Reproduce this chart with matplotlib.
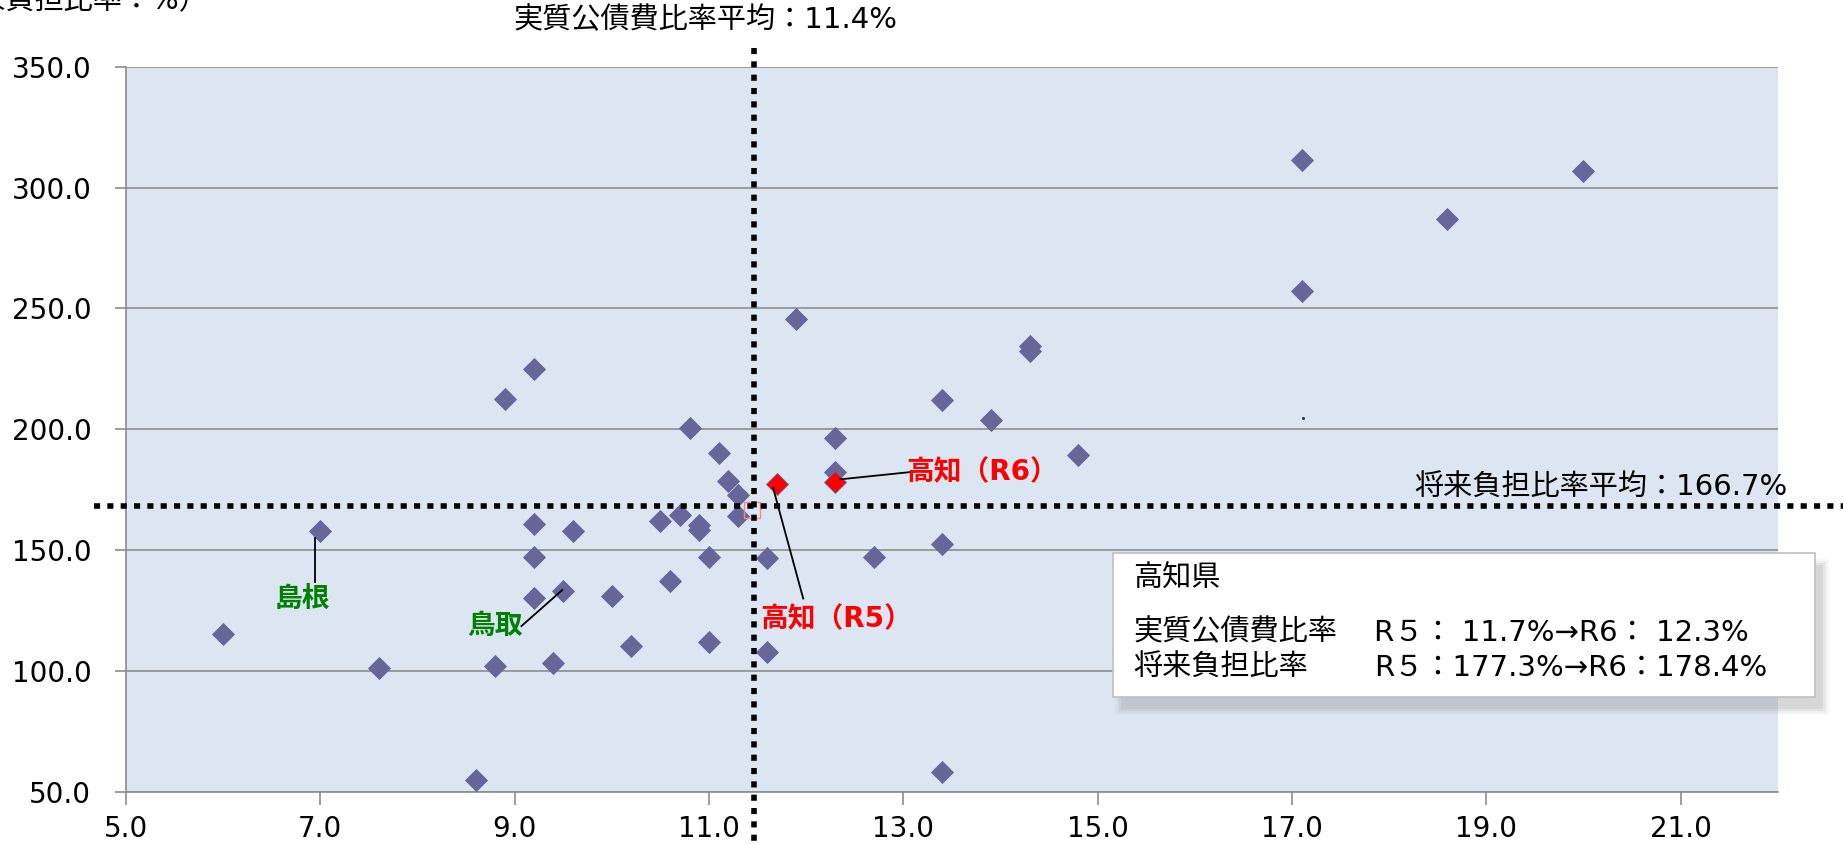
import matplotlib
matplotlib.use("Agg")
import matplotlib.pyplot as plt
from matplotlib.patches import Rectangle

plt.rcParams['font.family'] = ['DejaVu Sans', 'Noto Sans CJK JP']

# ---- data ----
# 実質公債費比率 (x) / 将来負担比率 (y), all prefectures
x_vals = [6.0, 7.0, 7.6, 8.6, 8.8, 8.9, 9.2, 9.2, 9.2, 9.2, 9.4, 9.5, 9.6,
          10.0, 10.2, 10.5, 10.6, 10.7, 10.8, 10.9, 10.9, 11.0, 11.0, 11.1,
          11.2, 11.3, 11.3, 11.6, 11.6, 11.9, 12.3, 12.3, 12.7, 13.4, 13.4,
          13.4, 13.9, 14.3, 14.3, 14.8, 17.1, 17.1, 18.6, 20.0]
y_vals = [115.2, 158.0, 101.2, 55.0, 102.2, 212.5, 225.0, 160.7, 147.0, 130.1,
          103.2, 133.3, 157.9, 131.0, 110.2, 162.1, 137.4, 164.7, 200.5, 160.6,
          158.2, 147.2, 111.9, 190.4, 178.5, 172.9, 164.3, 146.7, 107.7, 245.8,
          196.5, 182.3, 147.0, 212.3, 152.5, 58.2, 203.7, 234.3, 232.5, 189.2,
          311.3, 257.4, 287.0, 307.0]

# 高知 R5 / R6
kochi_x = [11.7, 12.3]
kochi_y = [177.3, 178.4]

# averages (where the dotted lines sit in the picture)
avg_x = 11.46
avg_y = 168.4
avg_point = (11.44, 166.7)

x_ticks = [5.0, 7.0, 9.0, 11.0, 13.0, 15.0, 17.0, 19.0, 21.0]
y_ticks = [50.0, 100.0, 150.0, 200.0, 250.0, 300.0, 350.0]

W, H = 1843, 844


def px(x, y):
    # pixel (from top-left) -> figure fraction
    return x / W, 1 - y / H


fig = plt.figure(figsize=(W / 100, H / 100), dpi=100)
ax = fig.add_axes([126 / W, 1 - 791.9 / H, (1777.7 - 126) / W, (791.9 - 66.7) / H])
ax.set_facecolor('#DCE6F2')
ax.set_xlim(5, 22)
ax.set_ylim(50, 350)
ax.set_xticks(x_ticks)
ax.set_yticks(y_ticks)
ax.set_xticklabels(['%.1f' % v for v in x_ticks])
ax.set_yticklabels(['%.1f' % v for v in y_ticks])
ax.tick_params(axis='y', length=8, width=1.2, color='#8c8c8c', pad=17, labelsize=20)
ax.tick_params(axis='x', length=9.5, width=1.2, color='#8c8c8c', pad=7, labelsize=20)
ax.grid(axis='y', color='#8c8c8c', linewidth=1.2, zorder=1)
ax.set_axisbelow(True)
for s in ['top', 'right']:
    ax.spines[s].set_visible(False)
for s in ['left', 'bottom']:
    ax.spines[s].set_color('#8c8c8c')
    ax.spines[s].set_linewidth(1.2)

ax.plot(x_vals, y_vals, linestyle='none', marker='D', ms=11.5,
        mfc='#666699', mec='#666699', mew=0.6, zorder=3)
ax.plot(kochi_x, kochi_y, linestyle='none', marker='D', ms=11.5,
        mfc='#FF0000', mec='#666699', mew=0.6, zorder=4)
ax.plot([17.11], [204.5], linestyle='none', marker='o', ms=1.2,
        color='#333333', zorder=3)
ax.plot([avg_point[0]], [avg_point[1]], linestyle='none', marker='s', ms=11,
        mfc='none', mec='#f08c8c', mew=1.0, zorder=4)

# dotted average lines (they run outside the plot area)
dot = dict(color='black', linewidth=4, dashes=(1.1, 1.3),
           dash_capstyle='butt', clip_on=False, zorder=5)
ax.plot([avg_x, avg_x], [357.7, 28.4], **dot)
ax.plot([4.67, 22.67], [avg_y, avg_y], **dot)

ax.text(22.1, 175.7, '将来負担比率平均：166.7%', fontsize=21,
        ha='right', va='center', clip_on=False, zorder=6)
fig.text(*px(705, 20), '実質公債費比率平均：11.4%', fontsize=21,
         ha='center', va='center')
fig.text(*px(209, 1), '（将来負担比率：%）', fontsize=21,
         ha='right', va='center')

# labels with leader lines
green = '#008000'
ax.plot([6.95, 6.95], [137.0, 155.1], color='black', lw=1.3, zorder=4)
ax.text(6.82, 130.0, '島根', color=green, fontsize=20, fontweight='bold',
        ha='center', va='center', zorder=6)
ax.plot([9.07, 9.49], [118.6, 133.5], color='black', lw=1.3, zorder=4)
ax.text(8.80, 118.6, '鳥取', color=green, fontsize=20, fontweight='bold',
        ha='center', va='center', zorder=6)
ax.plot([11.97, 11.66], [130.0, 175.8], color='black', lw=1.3, zorder=4)
ax.text(12.31, 121.6, '高知（R5）', color='#FF0000', fontsize=20,
        fontweight='bold', ha='center', va='center', zorder=6)
ax.plot([12.35, 13.12], [179.3, 182.5], color='black', lw=1.3, zorder=4)
ax.text(13.81, 182.1, '高知（R6）', color='#FF0000', fontsize=20,
        fontweight='bold', ha='center', va='center', zorder=6)

# info box with soft shadow
bx0, by0, bx1, by1 = 1113, 552.7, 1815, 696.7
for g, a in [(6, 0.05), (4, 0.07), (2, 0.09), (0, 0.12)]:
    x0, y0 = px(bx0 + 8 - g, by1 + 12 + g)
    fig.add_artist(Rectangle((x0, y0), (bx1 - bx0 + 2 * g) / W, (by1 - by0 + 2 * g) / H,
                             transform=fig.transFigure, facecolor='#808080',
                             edgecolor='none', alpha=a, zorder=7))
x0, y0 = px(bx0, by1)
fig.add_artist(Rectangle((x0, y0), (bx1 - bx0) / W, (by1 - by0) / H,
                         transform=fig.transFigure, facecolor='white',
                         edgecolor='#bfbfbf', linewidth=1.2, zorder=8))
fig.text(*px(1133, 579), '高知県', fontsize=21, va='center', zorder=9)
fig.text(*px(1133, 632.7), '実質公債費比率', fontsize=21, va='center', zorder=9)
fig.text(*px(1374, 632.7), 'R５： 11.7%→R6： 12.3%', fontsize=21,
         va='center', zorder=9)
fig.text(*px(1133, 668.3), '将来負担比率', fontsize=21, va='center', zorder=9)
fig.text(*px(1374, 668.3), 'R５：177.3%→R6：178.4%', fontsize=21,
         va='center', zorder=9)

fig.savefig('out.png', dpi=100, facecolor='white')
